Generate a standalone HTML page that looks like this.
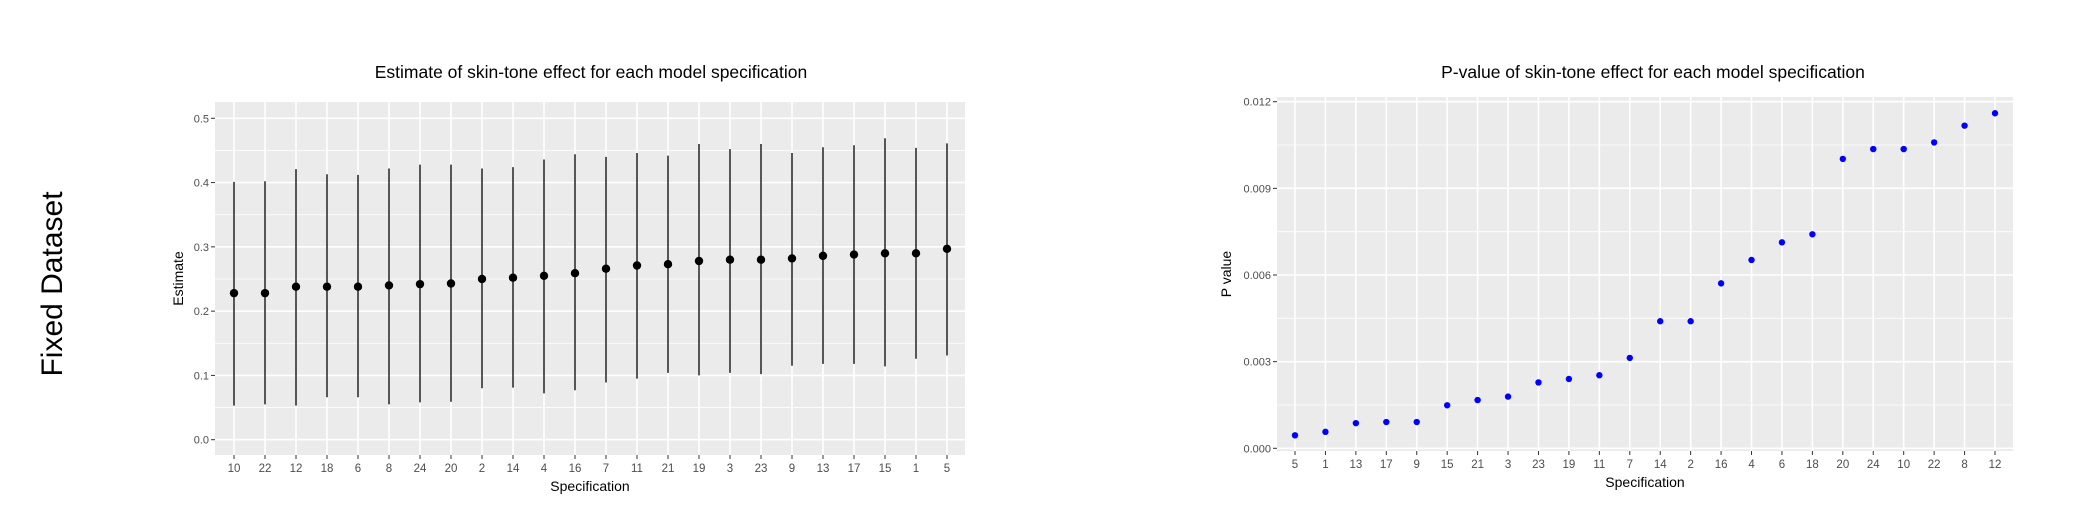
<!DOCTYPE html>
<html><head><meta charset="utf-8"><style>
html,body{margin:0;padding:0;background:#fff;}
svg{display:block;font-family:"Liberation Sans",Arial,sans-serif;}
</style></head><body>
<svg id="svg" width="2092" height="532" xmlns="http://www.w3.org/2000/svg">
<text x="54" y="284" font-size="30" text-anchor="middle" dominant-baseline="middle" transform="rotate(-90 54 284)">Fixed Dataset</text>
<g id="left"></g>
<g id="right"></g>
</svg>
<script>
const estCats = ["10","22","12","18","6","8","24","20","2","14","4","16","7","11","21","19","3","23","9","13","17","15","1","5"];
const estVals = [0.228,0.228,0.238,0.238,0.238,0.240,0.242,0.243,0.250,0.252,0.255,0.259,0.266,0.271,0.273,0.278,0.280,0.280,0.282,0.286,0.288,0.290,0.290,0.297];
const estLo = [0.053,0.055,0.053,0.066,0.066,0.055,0.058,0.059,0.080,0.081,0.072,0.077,0.089,0.095,0.104,0.100,0.104,0.102,0.115,0.118,0.118,0.114,0.126,0.131];
const estHi = [0.401,0.402,0.421,0.413,0.412,0.422,0.428,0.428,0.422,0.424,0.436,0.444,0.440,0.446,0.442,0.460,0.452,0.460,0.446,0.455,0.458,0.469,0.454,0.461];
const estTicks = [0,0.1,0.2,0.3,0.4,0.5];
const estTickLabels = ["0.0","0.1","0.2","0.3","0.4","0.5"];

const pCats = ["5","1","13","17","9","15","21","3","23","19","11","7","14","2","16","4","6","18","20","24","10","22","8","12"];
const pVals = [0.00045,0.00057,0.00087,0.00091,0.00091,0.00149,0.00167,0.00179,0.00228,0.00240,0.00253,0.00313,0.00440,0.00440,0.00571,0.00652,0.00713,0.00741,0.01002,0.01036,0.01036,0.01059,0.01117,0.01160];
const pTicks = [0,0.003,0.006,0.009,0.012];
const pTickLabels = ["0.000","0.003","0.006","0.009","0.012"];

const NS="http://www.w3.org/2000/svg";
function mk(parent,tag,attrs,text){const e=document.createElementNS(NS,tag);for(const k in attrs)e.setAttribute(k,attrs[k]);if(text!==undefined)e.textContent=text;parent.appendChild(e);return e;}

function chart(g,o){
  const y=v=>o.y0+(v-o.v0)/(o.v1-o.v0)*(o.y1-o.y0);
  const x=i=>o.x0+i*(o.xN-o.x0)/(o.cats.length-1);
  const bg=mk(g,'rect',{x:o.L,y:o.T,width:o.R-o.L,height:o.B-o.T,fill:'#ebebeb'});
  
  
  const step=o.ticks[1]-o.ticks[0];
  for(let i=0;i<o.ticks.length;i++){
    const mv=o.ticks[i]+step/2;const yy=y(mv);
    if(yy>o.T&&yy<o.B){const m=mk(g,'line',{x1:o.L,x2:o.R,y1:yy,y2:yy,stroke:'#fff','stroke-width':0.8});
      }
  }
  o.ticks.forEach((t,i)=>{const yy=y(t);
    const l=mk(g,'line',{x1:o.L,x2:o.R,y1:yy,y2:yy,stroke:'#fff','stroke-width':1.6});
    
    mk(g,'line',{x1:o.L-4,x2:o.L,y1:yy,y2:yy,stroke:'#333','stroke-width':1});
    const tl=mk(g,'text',{x:o.L-6,y:yy+4,'font-size':11,fill:'#4d4d4d','text-anchor':'end'},o.tickLabels[i]);
    
  });
  o.cats.forEach((c,i)=>{const xx=x(i);
    const l=mk(g,'line',{x1:xx,x2:xx,y1:o.T,y2:o.B,stroke:'#fff','stroke-width':1.6});
    
    mk(g,'line',{x1:xx,x2:xx,y1:o.B,y2:o.B+4,stroke:'#333','stroke-width':1});
    const tl=mk(g,'text',{x:xx,y:o.B+17,'font-size':11.5,fill:'#4d4d4d','text-anchor':'middle'},c);
    
  });
  if(o.lo){o.cats.forEach((c,i)=>{
    const e=mk(g,'line',{x1:x(i),x2:x(i),y1:y(o.lo[i]),y2:y(o.hi[i]),stroke:'#000','stroke-width':1.3});
    });}
  o.vals.forEach((v,i)=>{
    const p=mk(g,'circle',{cx:x(i),cy:y(v),r:o.r,fill:o.color});
    });
  const t=mk(g,'text',{x:o.tx,y:78,'font-size':17.5,fill:'#000','text-anchor':'middle'},o.title);
  
  const xt=mk(g,'text',{x:(o.L+o.R)/2,y:o.B+36,'font-size':14,fill:'#000','text-anchor':'middle'},'Specification');
  
  const yt=mk(g,'text',{x:o.ytx,y:(o.T+o.B)/2,'font-size':14,fill:'#000','text-anchor':'middle',transform:`rotate(-90 ${o.ytx} ${(o.T+o.B)/2})`},o.ytitle);
  
}
chart(document.getElementById('left'),{L:215,R:965,T:102,B:455,x0:234,xN:947,y0:439.7,y1:118.3,v0:0,v1:0.5,
  cats:estCats,vals:estVals,lo:estLo,hi:estHi,ticks:estTicks,tickLabels:estTickLabels,r:4.2,color:'#000',
  title:'Estimate of skin-tone effect for each model specification',tx:591,ytitle:'Estimate',ytx:183});
chart(document.getElementById('right'),{L:1277,R:2013,T:97,B:451,x0:1295,xN:1995,y0:448.3,y1:101.7,v0:0,v1:0.012,
  cats:pCats,vals:pVals,ticks:pTicks,tickLabels:pTickLabels,r:3.2,color:'#0000ff',
  title:'P-value of skin-tone effect for each model specification',tx:1653,ytitle:'P value',ytx:1231});
</script>
</body></html>
